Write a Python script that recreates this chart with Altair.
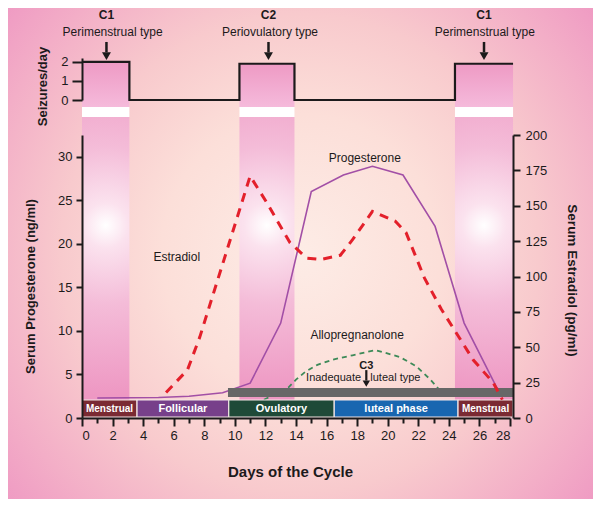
import altair as alt
import pandas as pd

# ---------------- data ----------------
band_start = [0.0, 10.3, 24.4]
band_end = [3.1, 13.9, 28.2]
band_level = [2.0, 1.9, 1.9]

step_days = [0.0, 3.1, 10.3, 13.9, 24.4, 28.2]
step_seizures = [2.0, 0.0, 1.9, 0.0, 1.9, 1.9]

type_codes = ["C1", "C2", "C1"]
type_names = ["Perimenstrual type", "Periovulatory type", "Perimenstrual type"]
type_code_days = [1.6, 12.2, 26.3]
type_name_days = [2.0, 12.3, 26.35]
arrow_days = [1.6, 12.2, 26.3]

prog_days = [1.0, 5.0, 7.0, 9.2, 11.0, 13.0, 15.0, 17.1, 19.0, 21.0, 23.1, 25.0, 27.1, 27.6]
prog_vals = [2.3, 2.35, 2.5, 2.9, 4.0, 10.9, 26.0, 27.9, 28.9, 27.9, 22.0, 10.9, 3.6, 2.5]

estr_days = [5.5, 6.9, 7.7, 11.0, 12.1, 13.6, 14.7, 15.6, 16.9, 17.7, 19.0, 20.5, 21.2,
             22.4, 23.5, 25.6, 26.9, 27.5]
estr_vals = [18, 34, 57, 171, 152, 124, 113, 112, 115, 126, 146, 139, 131, 99, 77, 41, 25, 13]

allo_days = [11.9, 13.5, 14.0, 14.6, 15.4, 16.4, 17.7, 19.2, 20.8, 21.9, 22.8, 23.3, 24.1]
allo_vals = [2.1, 3.5, 4.4, 5.3, 6.1, 6.7, 7.2, 7.8, 7.0, 5.9, 4.4, 3.4, 2.3]

phase_names = ["Menstrual", "Follicular", "Ovulatory", "luteal phase", "Menstrual"]
phase_start = [0.0, 3.6, 9.6, 16.5, 24.6]
phase_end = [3.6, 9.6, 16.5, 24.6, 28.2]
phase_colors = ["#7a2a33", "#77408a", "#1e4a38", "#1866b0", "#7a2a33"]
phase_font = [10, 11, 11, 11, 10]
phase_low, phase_high = 0.1, 2.07

c3_bar = {"s": [9.55], "e": [28.2], "v": [2.4], "v2": [3.45]}

label_texts = ["Estradiol", "Progesterone", "Allopregnanolone", "Inadequate\u00a0\u00a0 luteal type"]
label_days = [6.2, 18.5, 18.0, 18.4]
label_vals = [18.5, 29.9, 9.5, 4.6]
label_sizes = [12, 12, 12, 11]

c3_day, c3_val = 18.6, 6.0

# ---------------- styling ----------------
F = "Liberation Sans"
INK = "#1c1a1b"
W = 428
TOP_H = 42
MAIN_H = 283

xs = alt.Scale(domain=[0, 28], nice=False, zero=False)

bg_grad = alt.RadialGradient(
    gradient="radial",
    stops=[
        alt.GradientStop(color="#fdece6", offset=0),
        alt.GradientStop(color="#fcdfd9", offset=0.35),
        alt.GradientStop(color="#f8cacd", offset=0.6),
        alt.GradientStop(color="#f3aec7", offset=0.82),
        alt.GradientStop(color="#ee96c2", offset=1),
    ],
    x1=0.5, y1=0.5, r1=0, x2=0.5, y2=0.5, r2=0.68,
)
top_band_grad = alt.LinearGradient(
    gradient="linear",
    stops=[alt.GradientStop(color="#ee9ac4", offset=0), alt.GradientStop(color="#f5badb", offset=1)],
    x1=0, x2=0, y1=0, y2=1,
)
main_band_grad = alt.RadialGradient(
    gradient="radial",
    stops=[
        alt.GradientStop(color="#ffffff", offset=0),
        alt.GradientStop(color="#fbe2ee", offset=0.1),
        alt.GradientStop(color="#f4bcd8", offset=0.35),
        alt.GradientStop(color="#ee98c3", offset=0.75),
        alt.GradientStop(color="#ec92c0", offset=1),
    ],
    x1=0.5, y1=0.36, r1=0, x2=0.5, y2=0.36, r2=0.75,
)

one = pd.DataFrame({"a": [0]})
bands = pd.DataFrame({"s": band_start, "e": band_end, "v": band_level})
steps = pd.DataFrame({"day": step_days, "v": step_seizures})
types = pd.DataFrame({
    "code": type_codes, "name": type_names, "cday": type_code_days,
    "nday": type_name_days, "aday": arrow_days,
    "cy": [4.46] * 3, "ny": [3.57] * 3, "a1": [3.04] * 3, "a2": [2.5] * 3, "ah": [2.3] * 3,
})

# ---------------- top panel ----------------
top_axis = alt.Axis(
    values=[0, 1, 2], title="Seizures/day", titleFontSize=13, titleFontWeight="bold",
    titleX=-40, titleY=28, titleBaseline="middle", titleAngle=-90,
    labelFontSize=13, tickSize=10, labelPadding=4, zindex=2,
)
ytop = alt.Scale(domain=[0, 2.2], nice=False, zero=False)
xnone = lambda f: alt.X(f, scale=xs, axis=None)

bg = alt.Chart(one).mark_rect(fill=bg_grad).encode(
    x=alt.value(-74), x2=alt.value(511), y=alt.value(-50), y2=alt.value(441)
)
top_bands = alt.Chart(bands).mark_rect(fill=top_band_grad).encode(
    x=xnone("s:Q"), x2="e:Q", y=alt.Y("v:Q", scale=ytop, axis=top_axis), y2=alt.value(49)
)
top_step = alt.Chart(steps).mark_line(interpolate="step-after", color=INK, strokeWidth=2.2).encode(
    x=xnone("day:Q"), y=alt.Y("v:Q", scale=ytop, axis=top_axis)
)
top_arrow = alt.Chart(types).mark_rule(color=INK, strokeWidth=2.5).encode(
    x=xnone("aday:Q"), y=alt.Y("a1:Q", scale=ytop, axis=top_axis), y2="a2:Q"
)
top_head = alt.Chart(types).mark_point(shape="triangle-down", filled=True, size=80, color=INK, opacity=1).encode(
    x=xnone("aday:Q"), y=alt.Y("ah:Q", scale=ytop, axis=top_axis)
)
top_code = alt.Chart(types).mark_text(font=F, fontSize=12, fontWeight="bold", color=INK).encode(
    x=xnone("cday:Q"), y=alt.Y("cy:Q", scale=ytop, axis=top_axis), text="code:N"
)
top_name = alt.Chart(types).mark_text(font=F, fontSize=12, color=INK).encode(
    x=xnone("nday:Q"), y=alt.Y("ny:Q", scale=ytop, axis=top_axis), text="name:N"
)
top = alt.layer(bg, top_bands, top_step, top_arrow, top_head, top_code, top_name).properties(
    width=W, height=TOP_H
)

# ---------------- main panel ----------------
x_axis = alt.Axis(
    values=list(range(0, 29)),
    labelExpr="datum.value % 2 === 0 ? datum.label : ''",
    tickSize={"condition": {"test": "datum.value % 2 === 0", "value": 8}, "value": 5},
    title="Days of the Cycle", titleFontSize=15, titleFontWeight="bold",
    titleX=208, titleY=53, titleBaseline="middle",
    labelFontSize=13, labelPadding=3, zindex=2,
)
left_axis = alt.Axis(
    values=[0, 5, 10, 15, 20, 25, 30], title="Serum Progesterone (ng/ml)",
    titleFontSize=13, titleFontWeight="bold", titleX=-52, titleY=151,
    titleBaseline="middle", titleAngle=-90, labelFontSize=13, tickSize=6, labelPadding=4,
    zindex=2,
)
right_axis = alt.Axis(
    orient="right", values=[0, 25, 50, 75, 100, 125, 150, 175, 200], offset=3,
    title="Serum Estradiol (pg/ml)", titleFontSize=13.5, titleFontWeight="bold",
    titleX=58, titleY=145, titleBaseline="middle", titleAngle=90,
    labelFontSize=13, tickSize=7, labelPadding=5, zindex=2,
)
yl = alt.Scale(domain=[0, 32.5], nice=False, zero=False)
yr = alt.Scale(domain=[0, 200], nice=False, zero=False)
X = lambda f: alt.X(f, scale=xs, axis=x_axis)
YL = lambda f: alt.Y(f, scale=yl, axis=left_axis)

prog = pd.DataFrame({"day": prog_days, "v": prog_vals})
estr = pd.DataFrame({"day": estr_days, "v": estr_vals})
allo = pd.DataFrame({"day": allo_days, "v": allo_vals})
phases = pd.DataFrame({
    "name": phase_names, "s": phase_start, "e": phase_end, "col": phase_colors,
    "fs": phase_font, "v": [phase_low] * 5, "v2": [phase_high] * 5,
})
phases["mid"] = (phases["s"] + phases["e"]) / 2
phases["vm"] = (phase_low + phase_high) / 2
labels = pd.DataFrame({"t": label_texts, "day": label_days, "v": label_vals, "fs": label_sizes})
c3 = pd.DataFrame({"day": [c3_day], "v": [c3_val], "t": ["C3"],
                   "a1": [5.5], "a2": [4.3], "ah": [3.95]})

main_bands = alt.Chart(bands).mark_rect(fill=main_band_grad).encode(
    x=X("s:Q"), x2="e:Q", y=alt.value(-18), y2=alt.value(MAIN_H)
)
white_strip = alt.Chart(bands).mark_rect(fill="white").encode(
    x=X("s:Q"), x2="e:Q", y=alt.value(-28), y2=alt.value(-18)
)
prog_line = alt.Chart(prog).mark_line(color="#a24fa6", strokeWidth=1.6).encode(
    x=X("day:Q"), y=YL("v:Q")
)
allo_line = alt.Chart(allo).mark_line(color="#3d8a58", strokeWidth=1.8, strokeDash=[5, 4]).encode(
    x=X("day:Q"), y=YL("v:Q")
)
gray_bar = alt.Chart(pd.DataFrame(c3_bar)).mark_rect(fill="#676767").encode(
    x=X("s:Q"), x2="e:Q", y=YL("v:Q"), y2="v2:Q"
)
phase_rects = alt.Chart(phases).mark_rect(stroke="#f3e6e6", strokeWidth=1.2).encode(
    x=X("s:Q"), x2="e:Q", y=YL("v:Q"), y2="v2:Q",
    fill=alt.Fill("col:N", scale=None),
)
phase_text = alt.Chart(phases).mark_text(font=F, fontWeight="bold", color="white").encode(
    x=X("mid:Q"), y=YL("vm:Q"), text="name:N", size=alt.Size("fs:Q", scale=None)
)
label_text = alt.Chart(labels).mark_text(font=F, color=INK).encode(
    x=X("day:Q"), y=YL("v:Q"), text="t:N", size=alt.Size("fs:Q", scale=None)
)
c3_text = alt.Chart(c3).mark_text(font=F, fontSize=11, fontWeight="bold", color=INK).encode(
    x=X("day:Q"), y=YL("v:Q"), text="t:N"
)
c3_shaft = alt.Chart(c3).mark_rule(color=INK, strokeWidth=2.2).encode(
    x=X("day:Q"), y=YL("a1:Q"), y2="a2:Q"
)
c3_head = alt.Chart(c3).mark_point(shape="triangle-down", filled=True, size=55, color=INK, opacity=1).encode(
    x=X("day:Q"), y=YL("ah:Q")
)
estr_line = alt.Chart(estr).mark_line(color="#e3202b", strokeWidth=3, strokeDash=[9, 7]).encode(
    x=X("day:Q"), y=alt.Y("v:Q", scale=yr, axis=right_axis)
)

left_group = alt.layer(
    main_bands, white_strip, prog_line, allo_line, gray_bar, phase_rects, phase_text,
    label_text, c3_text, c3_shaft, c3_head,
)
main = alt.layer(left_group, estr_line).resolve_scale(y="independent").properties(
    width=W, height=MAIN_H
)

chart = alt.vconcat(top, main, spacing=35, bounds="flush").properties(padding=0).configure_view(
    stroke=None
).configure_axis(
    labelFont=F, titleFont=F, labelColor=INK, titleColor=INK, domainColor=INK,
    tickColor=INK, domainWidth=2, tickWidth=2, grid=False,
)

chart.save("out.html", embed_options={"renderer": "svg", "actions": False})
